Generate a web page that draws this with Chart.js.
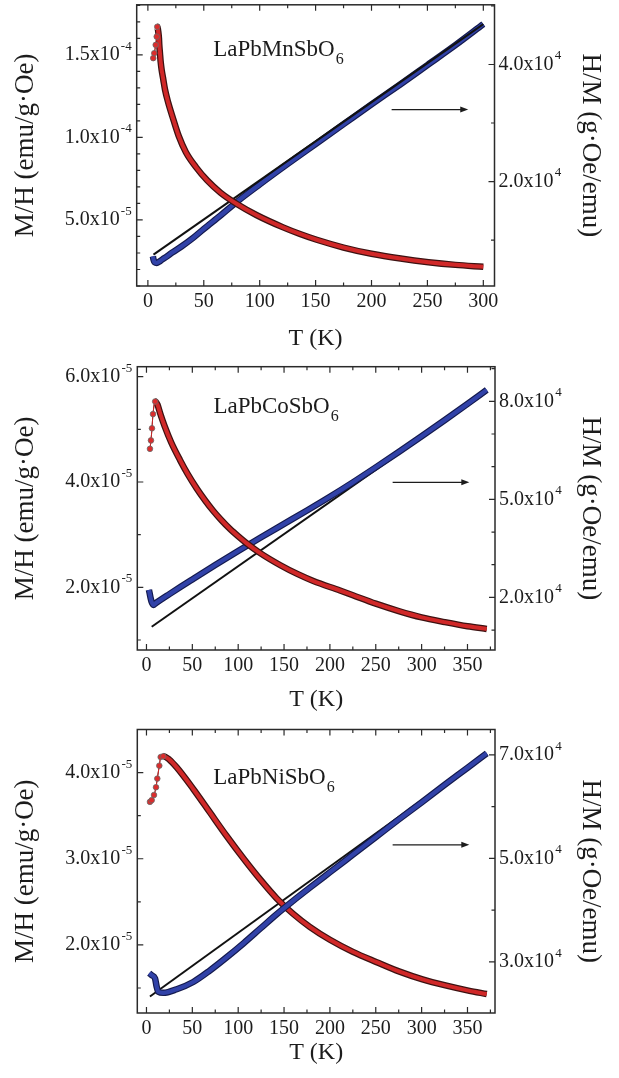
<!DOCTYPE html>
<html>
<head>
<title>M/H and H/M vs T</title>
<script src="https://cdn.jsdelivr.net/npm/chart.js"></script>
<style>
  body { margin: 0; background: #fff; }
  canvas { position: absolute; left: 0; }
</style>
</head>
<body>
<canvas id="mnChart" width="619" height="358" style="top:0px"></canvas>
<canvas id="coChart" width="619" height="360" style="top:358px"></canvas>
<canvas id="niChart" width="619" height="360" style="top:718px"></canvas>
<script>
// ---- LaPbMnSbO6 ----
const mnRedT = [4.8, 5.7, 7.0, 7.9, 8.4, 9.3, 9.9, 10.2, 10.8, 11.4, 12.3, 13.8, 15.3, 18.2, 22.7, 27.5, 34, 43, 53, 65, 80, 97, 121, 136, 151, 175, 200, 226, 251, 275, 300];
const mnRedM = [1.48e-4, 1.51e-4, 1.56e-4, 1.61e-4, 1.67e-4, 1.64e-4, 1.60e-4, 1.56e-4, 1.51e-4, 1.46e-4, 1.41e-4, 1.35e-4, 1.29e-4, 1.21e-4, 1.11e-4, 1.01e-4, 9.1e-5, 8.2e-5, 7.4e-5, 6.65e-5, 5.95e-5, 5.3e-5, 4.55e-5, 4.15e-5, 3.8e-5, 3.33e-5, 2.95e-5, 2.66e-5, 2.44e-5, 2.28e-5, 2.16e-5];
const mnBlueT = [4.5, 5, 6, 8, 10, 13, 17, 22, 30, 40, 50, 65, 80, 100, 125, 150, 175, 200, 225, 250, 275, 300];
const mnBlueH = [7200, 6700, 6200, 6100, 6300, 6700, 7200, 7900, 8900, 10300, 11900, 14200, 16600, 19500, 23000, 26400, 29800, 33200, 36500, 39900, 43300, 46900];
const mnFitT = [5, 300];
const mnFitH = [7500, 46900];

// ---- LaPbCoSbO6 ----
const coRedT = [3.8, 4.9, 6.0, 7.1, 9.5, 12, 15, 20, 27, 36.5, 45, 54.7, 64, 72.9, 82, 91, 100, 109, 124, 146, 165, 182, 211, 225, 250, 275, 300, 325, 350, 371];
const coRedM = [4.63e-5, 4.79e-5, 5.02e-5, 5.29e-5, 5.53e-5, 5.47e-5, 5.3e-5, 5.05e-5, 4.75e-5, 4.42e-5, 4.15e-5, 3.88e-5, 3.65e-5, 3.45e-5, 3.27e-5, 3.11e-5, 2.97e-5, 2.84e-5, 2.65e-5, 2.42e-5, 2.25e-5, 2.12e-5, 1.94e-5, 1.85e-5, 1.69e-5, 1.55e-5, 1.43e-5, 1.34e-5, 1.26e-5, 1.21e-5];
const coBlueT = [2.7, 3.5, 4.5, 5.5, 7.5, 10, 25, 36.5, 50, 75, 100, 125, 150, 175, 200, 225, 250, 275, 300, 325, 350, 371];
const coBlueH = [22300, 21200, 19800, 18700, 17700, 18200, 21000, 23100, 25500, 29900, 34200, 38400, 42500, 46600, 50800, 55200, 59800, 64500, 69300, 74200, 79200, 83500];
const coFitT = [5.7, 371];
const coFitH = [11000, 82800];

// ---- LaPbNiSbO6 ----
const niRedT = [3.8, 5.7, 8.2, 10.4, 11.8, 14, 15.5, 18.3, 25, 33, 51, 69, 87, 106, 124, 142, 160, 178, 200, 225, 251, 276, 301, 326, 351, 371];
const niRedM = [3.66e-5, 3.68e-5, 3.74e-5, 3.83e-5, 3.93e-5, 4.08e-5, 4.18e-5, 4.19e-5, 4.15e-5, 4.06e-5, 3.81e-5, 3.54e-5, 3.27e-5, 3.0e-5, 2.76e-5, 2.54e-5, 2.36e-5, 2.21e-5, 2.06e-5, 1.92e-5, 1.80e-5, 1.69e-5, 1.60e-5, 1.53e-5, 1.47e-5, 1.43e-5];
const niBlueT = [3.0, 5.7, 9.3, 11.1, 12.9, 18.3, 33, 51, 69, 87, 106, 124, 142, 160, 178, 200, 225, 250, 275, 300, 325, 350, 371];
const niBlueH = [27800, 27400, 26800, 25200, 24200, 24000, 24700, 26100, 28300, 30800, 33600, 36400, 39200, 41800, 44300, 47300, 50700, 54100, 57500, 60800, 64200, 67500, 70300];
const niFitT = [3.8, 371];
const niFitH = [23300, 70300];

// ---- tick labels ----
const xLabelsMn = [0, 50, 100, 150, 200, 250, 300];
const xLabelsCoNi = [0, 50, 100, 150, 200, 250, 300, 350];
const leftTicksMn = [5e-5, 1e-4, 1.5e-4];
const leftTextMn = [['5.0x10', '-5'], ['1.0x10', '-4'], ['1.5x10', '-4']];
const rightTicksMn = [2e4, 4e4];
const rightTextMn = [['2.0x10', '4'], ['4.0x10', '4']];
const leftTicksCo = [2e-5, 4e-5, 6e-5];
const leftTextCo = [['2.0x10', '-5'], ['4.0x10', '-5'], ['6.0x10', '-5']];
const rightTicksCo = [2e4, 5e4, 8e4];
const rightTextCo = [['2.0x10', '4'], ['5.0x10', '4'], ['8.0x10', '4']];
const leftTicksNi = [2e-5, 3e-5, 4e-5];
const leftTextNi = [['2.0x10', '-5'], ['3.0x10', '-5'], ['4.0x10', '-5']];
const rightTicksNi = [3e4, 5e4, 7e4];
const rightTextNi = [['3.0x10', '4'], ['5.0x10', '4'], ['7.0x10', '4']];

const SERIF = '"Liberation Serif", "Times New Roman", serif';
const INK = '#1c1c1c';

function steps(min, max, step) {
  const out = [];
  for (let i = Math.ceil(min / step - 1e-6); i * step <= max + step * 1e-6; i++) out.push(i * step);
  return out;
}

function pts(T, V) {
  return T.map((t, i) => ({ x: t, y: V[i] }));
}

// symbols drawn as a coloured band with a dark rim; the few low-T points stay separate dots
function redSeries(T, M) {
  const peak = M.indexOf(Math.max(...M));
  const data = pts(T, M);
  const top = {
    data: data, yAxisID: 'yL', showLine: true, cubicInterpolationMode: 'monotone',
    borderColor: '#d02828', borderWidth: 4,
    pointRadius: c => c.dataIndex <= peak ? 2.8 : 0,
    pointBackgroundColor: '#dc2c2c', pointBorderColor: '#6a6a6a', pointBorderWidth: 0.8,
    segment: { borderWidth: c => c.p1DataIndex <= peak ? 0 : undefined }
  };
  const rim = {
    data: data, yAxisID: 'yL', showLine: true, cubicInterpolationMode: 'monotone',
    borderColor: '#3d1212', borderWidth: 6.5, pointRadius: 0,
    segment: { borderWidth: c => c.p1DataIndex <= peak ? 1 : undefined }
  };
  return [top, rim];
}

function blueSeries(T, H) {
  const data = pts(T, H);
  const top = {
    data: data, yAxisID: 'yR', showLine: true, cubicInterpolationMode: 'monotone',
    borderColor: '#3142a8', borderWidth: 4.2, pointRadius: 0
  };
  const rim = {
    data: data, yAxisID: 'yR', showLine: true, cubicInterpolationMode: 'monotone',
    borderColor: '#141a4e', borderWidth: 6.5, pointRadius: 0
  };
  return [top, rim];
}

function fitSeries(T, H) {
  return [{ data: pts(T, H), yAxisID: 'yR', showLine: true, borderColor: '#111', borderWidth: 2, pointRadius: 0 }];
}

function supLabel(ctx, x, y, txt, alignRight) {
  ctx.font = '20px ' + SERIF;
  const wb = ctx.measureText(txt[0]).width;
  ctx.font = '13px ' + SERIF;
  const we = ctx.measureText(txt[1]).width;
  const x0 = alignRight ? x - wb - we - 1.2 : x;
  ctx.textAlign = 'left';
  ctx.textBaseline = 'middle';
  ctx.font = '20px ' + SERIF;
  ctx.fillText(txt[0], x0, y);
  ctx.font = '13px ' + SERIF;
  ctx.fillText(txt[1], x0 + wb + 1.2, y - 8.5);
}

function paperAxes(p) {
  return {
    id: 'paperAxes',
    afterDraw(chart) {
      const ctx = chart.ctx, a = chart.chartArea;
      const sx = chart.scales.x, sl = chart.scales.yL, sr = chart.scales.yR;
      const isMajor = (list, v, step) => list.some(m => Math.abs(m - v) < step * 0.01);
      ctx.save();
      ctx.strokeStyle = '#2a2a2a';
      ctx.fillStyle = INK;

      // inward tick marks
      ctx.lineWidth = 1.2;
      ctx.beginPath();
      steps(p.x[0], p.x[1], 25).forEach(v => {
        const px = sx.getPixelForValue(v), len = v % 50 === 0 ? 6 : 3.5;
        ctx.moveTo(px, a.bottom); ctx.lineTo(px, a.bottom - len);
        ctx.moveTo(px, a.top); ctx.lineTo(px, a.top + len);
      });
      steps(p.yL[0], p.yL[1], p.leftStep).forEach(v => {
        const py = sl.getPixelForValue(v), len = isMajor(p.leftTicks, v, p.leftStep) ? 6 : 3.5;
        ctx.moveTo(a.left, py); ctx.lineTo(a.left + len, py);
      });
      steps(p.yR[0], p.yR[1], p.rightStep).forEach(v => {
        const py = sr.getPixelForValue(v), len = isMajor(p.rightTicks, v, p.rightStep) ? 6 : 3.5;
        ctx.moveTo(a.right, py); ctx.lineTo(a.right - len, py);
      });
      ctx.stroke();

      // frame
      ctx.lineWidth = 1.5;
      ctx.strokeRect(a.left, a.top, a.right - a.left, a.bottom - a.top);

      // tick labels
      ctx.font = '20px ' + SERIF;
      ctx.textAlign = 'center';
      ctx.textBaseline = 'middle';
      p.xLabels.forEach(v => ctx.fillText(String(v), sx.getPixelForValue(v), a.bottom + 15.5));
      p.leftTicks.forEach((v, i) => supLabel(ctx, a.left - 5, sl.getPixelForValue(v), p.leftText[i], true));
      p.rightTicks.forEach((v, i) => supLabel(ctx, a.right + 4, sr.getPixelForValue(v), p.rightText[i], false));

      // axis titles
      ctx.textAlign = 'center';
      ctx.textBaseline = 'middle';
      const midY = (a.top + a.bottom) / 2;
      ctx.font = '24px ' + SERIF;
      ctx.fillText('T (K)', (a.left + a.right) / 2, a.bottom + p.xTitleGap);
      ctx.font = '27px ' + SERIF;
      ctx.save();
      ctx.translate(26, midY);
      ctx.rotate(-Math.PI / 2);
      ctx.fillText('M/H (emu/g\u00b7Oe)', 0, 0);
      ctx.restore();
      ctx.save();
      ctx.translate(590, midY);
      ctx.rotate(Math.PI / 2);
      ctx.fillText('H/M (g\u00b7Oe/emu)', 0, 0);
      ctx.restore();

      // compound name with subscript
      const nx = sx.getPixelForValue(p.nameAt[0]), ny = sl.getPixelForValue(p.nameAt[1]);
      ctx.textAlign = 'left';
      ctx.textBaseline = 'alphabetic';
      ctx.font = '23px ' + SERIF;
      ctx.fillText(p.name[0], nx, ny);
      const wn = ctx.measureText(p.name[0]).width;
      ctx.font = '16px ' + SERIF;
      ctx.fillText(p.name[1], nx + wn + 1, ny + 8);

      // arrow pointing to the right axis
      const ax1 = sx.getPixelForValue(p.arrow[0]), ax2 = sx.getPixelForValue(p.arrow[1]);
      const ay = sr.getPixelForValue(p.arrow[2]);
      ctx.strokeStyle = INK;
      ctx.lineWidth = 1.3;
      ctx.beginPath();
      ctx.moveTo(ax1, ay); ctx.lineTo(ax2 - 4, ay);
      ctx.stroke();
      ctx.beginPath();
      ctx.moveTo(ax2, ay); ctx.lineTo(ax2 - 8, ay - 3); ctx.lineTo(ax2 - 8, ay + 3);
      ctx.closePath();
      ctx.fill();
      ctx.restore();
    }
  };
}

// datasets are listed top-most first
function makePanel(id, p, groups) {
  new Chart(document.getElementById(id), {
    type: 'scatter',
    data: { datasets: [].concat(...groups) },
    options: {
      responsive: false,
      animation: false,
      layout: { padding: p.pad },
      plugins: { legend: { display: false }, tooltip: { enabled: false } },
      scales: {
        x: { type: 'linear', display: false, min: p.x[0], max: p.x[1] },
        yL: { type: 'linear', position: 'left', display: false, min: p.yL[0], max: p.yL[1] },
        yR: { type: 'linear', position: 'right', display: false, min: p.yR[0], max: p.yR[1] }
      }
    },
    plugins: [paperAxes(p)]
  });
}

makePanel('mnChart', {
  pad: { left: 136.7, right: 124.5, top: 1.7, bottom: 72 },
  x: [-10, 310], yL: [1.0e-5, 1.803e-4], yR: [2150, 50200],
  xLabels: xLabelsMn, xTitleGap: 53,
  leftTicks: leftTicksMn, leftText: leftTextMn, leftStep: 1e-5,
  rightTicks: rightTicksMn, rightText: rightTextMn, rightStep: 1e4,
  name: ['LaPbMnSbO', '6'], nameAt: [58.5, 1.494e-4],
  arrow: [218, 286.5, 32300]
}, [redSeries(mnRedT, mnRedM), fitSeries(mnFitT, mnFitH), blueSeries(mnBlueT, mnBlueH)]);

makePanel('coChart', {
  pad: { left: 137.3, right: 124, top: 8.7, bottom: 68 },
  x: [-10, 380], yL: [8.1e-6, 6.19e-5], yR: [3900, 90600],
  xLabels: xLabelsCoNi, xTitleGap: 50,
  leftTicks: leftTicksCo, leftText: leftTextCo, leftStep: 1e-5,
  rightTicks: rightTicksCo, rightText: rightTextCo, rightStep: 1e4,
  name: ['LaPbCoSbO', '6'], nameAt: [73, 5.31e-5],
  arrow: [268.4, 352, 55200]
}, [redSeries(coRedT, coRedM), blueSeries(coBlueT, coBlueH), fitSeries(coFitT, coFitH)]);

makePanel('niChart', {
  pad: { left: 137.3, right: 124, top: 11.5, bottom: 65 },
  x: [-10, 380], yL: [1.21e-5, 4.5e-5], yR: [20100, 74900],
  xLabels: xLabelsCoNi, xTitleGap: 40,
  leftTicks: leftTicksNi, leftText: leftTextNi, leftStep: 5e-6,
  rightTicks: rightTicksNi, rightText: rightTextNi, rightStep: 1e4,
  name: ['LaPbNiSbO', '6'], nameAt: [72.8, 3.87e-5],
  arrow: [268.4, 352, 52600]
}, [blueSeries(niBlueT, niBlueH), redSeries(niRedT, niRedM), fitSeries(niFitT, niFitH)]);
</script>
</body>
</html>
